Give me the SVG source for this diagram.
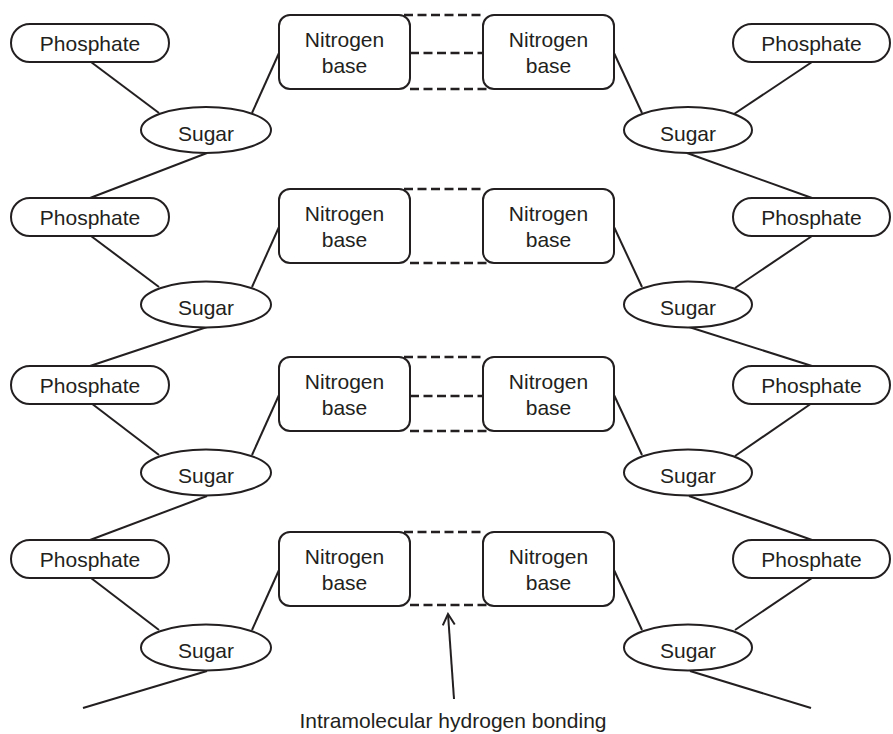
<svg xmlns="http://www.w3.org/2000/svg" width="893" height="734" viewBox="0 0 893 734">
<defs>
<style>
.sh{fill:#fff;stroke:#231f20;stroke-width:2}
.ln{stroke:#231f20;stroke-width:2;fill:none}
.hb{stroke:#231f20;stroke-width:2.6;stroke-dasharray:9,4.5;fill:none}
text{font-family:"Liberation Sans",Arial,sans-serif;font-size:21px;fill:#231f20;text-anchor:middle}
</style>
<marker id="arr" markerWidth="14" markerHeight="14" refX="12" refY="7" orient="auto" markerUnits="userSpaceOnUse">
<path d="M1,1 L12,7 L1,13" fill="none" stroke="#231f20" stroke-width="2"/>
</marker>
</defs>
<rect width="893" height="734" fill="#fff"/>
<g id="connectors">
<line class="ln" x1="91" y1="62" x2="159" y2="113"/>
<line class="ln" x1="252" y1="113" x2="279" y2="53"/>
<line class="ln" x1="207" y1="153" x2="90" y2="198"/>
<line class="ln" x1="91" y1="236" x2="159" y2="287"/>
<line class="ln" x1="252" y1="287" x2="279" y2="227"/>
<line class="ln" x1="207" y1="327" x2="90" y2="366"/>
<line class="ln" x1="91" y1="403" x2="159" y2="455"/>
<line class="ln" x1="252" y1="455" x2="279" y2="395"/>
<line class="ln" x1="207" y1="496" x2="90" y2="540"/>
<line class="ln" x1="91" y1="578" x2="159" y2="630"/>
<line class="ln" x1="252" y1="630" x2="279" y2="570"/>
<line class="ln" x1="207" y1="671" x2="83" y2="708"/>
<line class="ln" x1="812" y1="62" x2="734" y2="114"/>
<line class="ln" x1="614" y1="53" x2="642" y2="113"/>
<line class="ln" x1="687" y1="153" x2="812" y2="198"/>
<line class="ln" x1="812" y1="236" x2="735" y2="288"/>
<line class="ln" x1="614" y1="227" x2="642" y2="287"/>
<line class="ln" x1="689" y1="327" x2="812" y2="366"/>
<line class="ln" x1="812" y1="403" x2="735" y2="456"/>
<line class="ln" x1="614" y1="395" x2="642" y2="455"/>
<line class="ln" x1="689" y1="496" x2="812" y2="540"/>
<line class="ln" x1="812" y1="578" x2="735" y2="630"/>
<line class="ln" x1="614" y1="570" x2="642" y2="630"/>
<line class="ln" x1="690" y1="671" x2="811" y2="708"/>
<line class="hb" x1="404" y1="15" x2="484" y2="15"/>
<line class="hb" x1="410" y1="53" x2="484" y2="53"/>
<line class="hb" x1="410" y1="89" x2="490" y2="89"/>
<line class="hb" x1="404" y1="189" x2="484" y2="189"/>
<line class="hb" x1="410" y1="263" x2="490" y2="263"/>
<line class="hb" x1="404" y1="357" x2="484" y2="357"/>
<line class="hb" x1="410" y1="396" x2="484" y2="396"/>
<line class="hb" x1="410" y1="431" x2="490" y2="431"/>
<line class="hb" x1="404" y1="532" x2="484" y2="532"/>
<line class="hb" x1="410" y1="605" x2="490" y2="605"/>
<line class="ln" x1="454" y1="699" x2="448" y2="614" marker-end="url(#arr)"/>
</g>
<g id="phos-l1"><rect class="sh" x="11" y="24" width="158" height="38" rx="19"/><text x="90" y="50.5">Phosphate</text></g>
<g id="sugar-l1"><ellipse class="sh" cx="206" cy="130" rx="65" ry="23"/><text x="206" y="140.5">Sugar</text></g>
<g id="base-l1"><rect class="sh" x="279" y="15" width="131" height="74" rx="11"/><text x="344.5" y="47">Nitrogen</text><text x="344.5" y="73">base</text></g>
<g id="base-r1"><rect class="sh" x="483" y="15" width="131" height="74" rx="11"/><text x="548.5" y="47">Nitrogen</text><text x="548.5" y="73">base</text></g>
<g id="sugar-r1"><ellipse class="sh" cx="688" cy="130" rx="64" ry="23"/><text x="688" y="140.5">Sugar</text></g>
<g id="phos-r1"><rect class="sh" x="733" y="24" width="157" height="38" rx="19"/><text x="811.5" y="50.5">Phosphate</text></g>
<g id="phos-l2"><rect class="sh" x="11" y="198" width="158" height="38" rx="19"/><text x="90" y="224.5">Phosphate</text></g>
<g id="sugar-l2"><ellipse class="sh" cx="206" cy="304.5" rx="65" ry="23"/><text x="206" y="315">Sugar</text></g>
<g id="base-l2"><rect class="sh" x="279" y="189" width="131" height="74" rx="11"/><text x="344.5" y="221">Nitrogen</text><text x="344.5" y="247">base</text></g>
<g id="base-r2"><rect class="sh" x="483" y="189" width="131" height="74" rx="11"/><text x="548.5" y="221">Nitrogen</text><text x="548.5" y="247">base</text></g>
<g id="sugar-r2"><ellipse class="sh" cx="688" cy="304.5" rx="64" ry="23"/><text x="688" y="315">Sugar</text></g>
<g id="phos-r2"><rect class="sh" x="733" y="198" width="157" height="38" rx="19"/><text x="811.5" y="224.5">Phosphate</text></g>
<g id="phos-l3"><rect class="sh" x="11" y="366" width="158" height="38" rx="19"/><text x="90" y="392.5">Phosphate</text></g>
<g id="sugar-l3"><ellipse class="sh" cx="206" cy="472.5" rx="65" ry="23"/><text x="206" y="483">Sugar</text></g>
<g id="base-l3"><rect class="sh" x="279" y="357" width="131" height="74" rx="11"/><text x="344.5" y="389">Nitrogen</text><text x="344.5" y="415">base</text></g>
<g id="base-r3"><rect class="sh" x="483" y="357" width="131" height="74" rx="11"/><text x="548.5" y="389">Nitrogen</text><text x="548.5" y="415">base</text></g>
<g id="sugar-r3"><ellipse class="sh" cx="688" cy="472.5" rx="64" ry="23"/><text x="688" y="483">Sugar</text></g>
<g id="phos-r3"><rect class="sh" x="733" y="366" width="157" height="38" rx="19"/><text x="811.5" y="392.5">Phosphate</text></g>
<g id="phos-l4"><rect class="sh" x="11" y="540" width="158" height="38" rx="19"/><text x="90" y="566.5">Phosphate</text></g>
<g id="sugar-l4"><ellipse class="sh" cx="206" cy="647.5" rx="65" ry="23"/><text x="206" y="658">Sugar</text></g>
<g id="base-l4"><rect class="sh" x="279" y="532" width="131" height="74" rx="11"/><text x="344.5" y="564">Nitrogen</text><text x="344.5" y="590">base</text></g>
<g id="base-r4"><rect class="sh" x="483" y="532" width="131" height="74" rx="11"/><text x="548.5" y="564">Nitrogen</text><text x="548.5" y="590">base</text></g>
<g id="sugar-r4"><ellipse class="sh" cx="688" cy="647.5" rx="64" ry="23"/><text x="688" y="658">Sugar</text></g>
<g id="phos-r4"><rect class="sh" x="733" y="540" width="157" height="38" rx="19"/><text x="811.5" y="566.5">Phosphate</text></g>
<g id="label"><text x="453" y="728">Intramolecular hydrogen bonding</text></g>
</svg>
